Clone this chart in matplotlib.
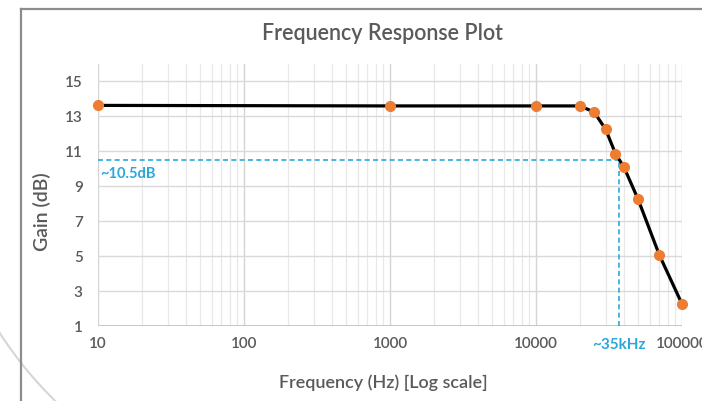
"""Frequency response plot (gain vs log frequency)"""
import matplotlib.pyplot as plt
from matplotlib.lines import Line2D
from matplotlib.patches import Arc
from matplotlib.transforms import IdentityTransform
from matplotlib.ticker import LogLocator, NullFormatter

plt.rcParams['font.family'] = ['Lato', 'DejaVu Sans']
plt.rcParams['font.weight'] = 'semibold'

# data
freq_hz = [10, 1000, 10000, 20000, 25000, 30000, 35000, 40000, 50000, 70000, 100000]
gain_db = [13.63, 13.6, 13.6, 13.6, 13.25, 12.26, 10.87, 10.1, 8.26, 5.06, 2.26]

x_ticks = [10, 100, 1000, 10000, 100000]
x_tick_labels = ['10', '100', '1000', '10000', '100000']
y_ticks = [1, 3, 5, 7, 9, 11, 13, 15]

cutoff_hz = 37000
cutoff_db = 10.5
cutoff_hz_label = '~35kHz'
cutoff_db_label = '~10.5dB'

TEXT = '#5a5a5a'
CYAN = '#2aa8dc'
ORANGE = '#ed7d31'

fig = plt.figure(figsize=(7.02, 4.01), dpi=100)
ax = fig.add_axes([98/702, 75/401, 584/702, 262/401])

ax.set_xscale('log')
ax.set_xlim(10, 100000)
ax.set_ylim(1, 16)

# grid
ax.set_xticks(x_ticks, x_tick_labels)
ax.xaxis.set_minor_locator(LogLocator(base=10, subs=range(2, 10)))
ax.xaxis.set_minor_formatter(NullFormatter())
ax.set_yticks(y_ticks)
ax.grid(True, which='major', axis='x', color='#d4d4d4', lw=1.0)
ax.grid(True, which='minor', axis='x', color='#e8e8e8', lw=0.9)
ax.grid(True, which='major', axis='y', color='#d9d9d9', lw=1.0)
ax.axhline(1, color='#bfbfbf', lw=1.2, zorder=1)
for s in ax.spines.values():
    s.set_visible(False)
ax.tick_params(which='both', length=0)
ax.tick_params(axis='y', pad=11, labelsize=11, labelcolor=TEXT)
ax.tick_params(axis='x', pad=8, labelsize=11, labelcolor=TEXT)
ax.set_axisbelow(True)

# cutoff guide lines
ax.plot([10, cutoff_hz], [cutoff_db, cutoff_db], color=CYAN, lw=1.2,
        ls=(0, (3, 2)), zorder=2)
ax.plot([cutoff_hz, cutoff_hz], [1, cutoff_db], color=CYAN, lw=1.2,
        ls=(0, (3, 2)), zorder=2)
ax.annotate(cutoff_db_label, xy=(10, cutoff_db), xytext=(2, -14),
            textcoords='offset pixels', color=CYAN, fontsize=10.5,
            fontweight='bold', ha='left', va='center')
ax.annotate(cutoff_hz_label, xy=(cutoff_hz, 0), xycoords=('data', 'axes fraction'),
            xytext=(0, -19), textcoords='offset pixels', color=CYAN,
            fontsize=11, fontweight='bold', ha='center', va='center',
            annotation_clip=False)

# response curve
ax.plot(freq_hz, gain_db, color='black', lw=2.3, zorder=3,
        solid_joinstyle='round')
ax.plot(freq_hz, gain_db, ls='none', marker='o', ms=7, color=ORANGE,
        mec=ORANGE, zorder=4, clip_on=False)

# titles
fig.text(382/702, 1 - 34/401, 'Frequency Response Plot', fontsize=15.5,
         color=TEXT, ha='center', va='center')
fig.text(383/702, 1 - 383/401, 'Frequency (Hz) [Log scale]', fontsize=13,
         color=TEXT, ha='center', va='center')
fig.text(42/702, 1 - 212/401, 'Gain (dB)', fontsize=14, color=TEXT,
         rotation=90, ha='center', va='center')

# chart frame and shadow
fig.add_artist(Line2D([21/702, 1], [1 - 9/401, 1 - 9/401],
                      transform=fig.transFigure, color='#8c8c8c', lw=1.6))
fig.add_artist(Line2D([21/702, 21/702], [0, 1 - 9/401],
                      transform=fig.transFigure, color='#8c8c8c', lw=1.6))
fig.add_artist(Arc((330, 281), 786, 786, theta1=205, theta2=235,
                   transform=IdentityTransform(), color='#d6d6d6', lw=1.5))

fig.savefig('out.png', dpi=100)
